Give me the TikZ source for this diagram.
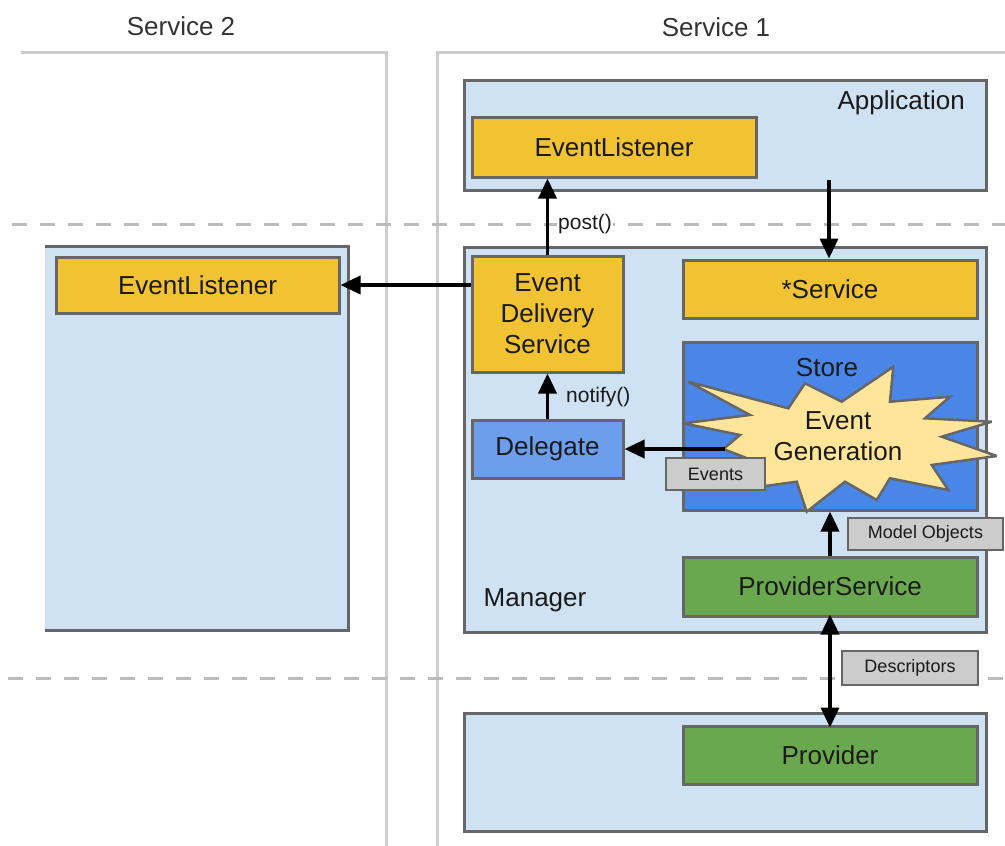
\documentclass[tikz,border=0pt]{standalone}
\usepackage{fontspec}
\setmainfont{Liberation Sans}
\usetikzlibrary{arrows.meta}
\definecolor{lblue}{HTML}{CFE2F3}
\definecolor{ylw}{HTML}{F1C232}
\definecolor{sblue}{HTML}{4A86E8}
\definecolor{dblue}{HTML}{6D9EEB}
\definecolor{grn}{HTML}{6AA84F}
\definecolor{lgray}{HTML}{CCCCCC}
\definecolor{burstc}{HTML}{FFE599}
\definecolor{bord}{HTML}{666666}
\definecolor{framec}{HTML}{CCCCCC}
\definecolor{dashc}{HTML}{BBBBBB}
\definecolor{txt}{HTML}{1A1A1A}
\begin{document}
\begin{tikzpicture}[x=1pt,y=-1pt,
  bigtext/.style={text=txt, font=\fontsize{26}{31}\selectfont},
  box/.style={draw=bord, line width=3pt, inner sep=0pt, align=center, bigtext},
  lbox/.style={box, fill=lblue},
  ybox/.style={box, fill=ylw},
  gbox/.style={box, fill=grn},
  tag/.style={draw=bord, fill=lgray, line width=2.5pt, inner sep=0pt, text=txt, font=\fontsize{18}{20}\selectfont},
  calltext/.style={text=txt, font=\fontsize{21}{24}\selectfont, inner sep=1pt},
  framel/.style={draw=framec, line width=3pt},
  sepline/.style={draw=dashc, line width=3pt, dash pattern=on 15pt off 13pt},
  tip/.tip={Triangle[length=20pt,width=18pt]},
  arr/.style={draw=black, line width=3.6pt, -tip},
  darr/.style={draw=black, line width=3.6pt, tip-tip},
  burst/.style={draw=bord, fill=burstc, line width=2.5pt, line join=miter, miter limit=4}
]
\useasboundingbox (0,0) rectangle (1005,846);
\fill[white] (0,0) rectangle (1005,846);

% service frames
\node[bigtext, text=black!80] (s2title) at (181,26) {Service 2};
\node[bigtext, text=black!80] (s1title) at (716,27) {Service 1};
\draw[framel] (21,52) -- (386,52) -- (386,846);
\draw[framel] (1005,52) -- (437,52) -- (437,846);

% separators
\draw[sepline] (12,224) -- (1005,224);
\draw[sepline] (8,678) -- (1005,678);

% Service 2 container
\node[fill=lblue, inner sep=0pt, minimum width=303pt, minimum height=383pt] (s2box) at (196.5,438.5) {};
\draw[draw=bord, line width=3pt] (s2box.north west) -- (s2box.north east) -- (s2box.south east) -- (s2box.south west);
\node[ybox, minimum width=283pt, minimum height=56pt] (el2) at (197.5,285) {EventListener};

% Application
\node[lbox, minimum width=522pt, minimum height=110pt] (app) at (725,135) {};
\node[bigtext, anchor=east, inner sep=0pt] (applbl) at (965,103) {Application};
\node[ybox, minimum width=284pt, minimum height=60pt] (el1) at (614,147) {EventListener};

% Manager
\node[lbox, minimum width=522pt, minimum height=385pt] (mgr) at (725,439.5) {};
\node[bigtext, inner sep=0pt] (mgrlbl) at (535,600) {Manager};
\node[ybox, minimum width=151pt, minimum height=116pt] (eds) at (547.5,314) {Event\\Delivery\\Service};
\node[ybox, minimum width=294pt, minimum height=58pt] (svc) at (830,289) {*Service};
\node[box, fill=sblue, minimum width=294pt, minimum height=168pt] (store) at (830,426) {};
\node[bigtext, inner sep=0pt] (storelbl) at (827,368) {Store};
\draw[burst] (688.3,381.7) -- (788.3,408.3) -- (805,383.3) -- (841.7,401.7) -- (893.3,366.7)
  -- (890,401.7) -- (950,396.7) -- (925,418.3) -- (991.7,421.7) -- (941.7,436.7)
  -- (996.7,456) -- (931.7,465) -- (948.3,490) -- (890,478.3) -- (876.7,500)
  -- (845,481.7) -- (806.7,511.7) -- (796.7,481.7) -- (760,486.7) -- (760,463.3)
  -- (723.3,449) -- (740,435) -- (683.3,423.3) -- (750,415) -- cycle;
\node[bigtext, align=center, inner sep=0pt] (evgen) at (838,436) {Event\\Generation};
\coordinate (burstL) at (725,449);
\node[box, fill=dblue, minimum width=151pt, minimum height=58pt] (dlg) at (547.5,449) {Delegate};
\node[gbox, minimum width=294pt, minimum height=59pt] (ps) at (830,586.5) {ProviderService};

% Bottom (provider) process
\node[lbox, minimum width=522pt, minimum height=118pt] (bot) at (725,772) {};
\node[gbox, minimum width=294pt, minimum height=58pt] (prov) at (830,755) {Provider};

% connectors
\coordinate (appout) at (829,180);
\draw[arr] (eds.west |- el2.east) -- (el2.east);
\draw[arr] (eds.north) -- (eds.north |- el1.south);
\draw[arr] (appout) -- (appout |- svc.north);
\draw[arr] (dlg.north) -- (eds.south);
\draw[arr] (burstL) -- (dlg.east);
\draw[arr] (ps.north) -- (store.south);
\draw[darr] ([yshift=3pt]ps.south) -- ([yshift=-3pt]prov.north);

% labels
\node[calltext, fill=white, anchor=west] (postlbl) at (557,224) {post()};
\node[calltext, anchor=west] (notifylbl) at (565,397) {notify()};
\node[tag, minimum width=99pt, minimum height=32pt] (events) at (715.5,474) {Events};
\node[tag, minimum width=155pt, minimum height=32pt] (modobj) at (925.5,534) {Model Objects};
\node[tag, minimum width=136pt, minimum height=34pt] (desc) at (910,668) {Descriptors};
\end{tikzpicture}
\end{document}
